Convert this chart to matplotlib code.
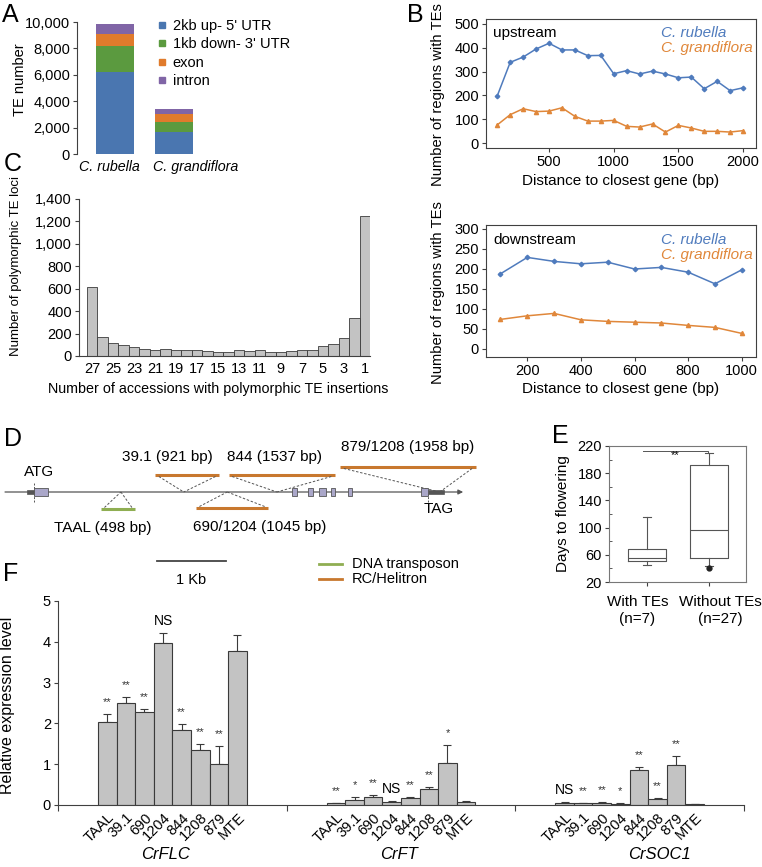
import matplotlib
matplotlib.use('Agg')
import matplotlib.pyplot as plt
from matplotlib.lines import Line2D
from matplotlib.patches import Rectangle
from matplotlib.ticker import FuncFormatter, MultipleLocator

plt.rcParams['font.family'] = ['Liberation Sans', 'DejaVu Sans']
plt.rcParams['font.size'] = 10
plt.rcParams['axes.linewidth'] = 0.8
plt.rcParams['axes.edgecolor'] = '#404040'
plt.rcParams['axes.facecolor'] = 'none'
plt.rcParams['xtick.color'] = '#404040'
plt.rcParams['ytick.color'] = '#404040'
plt.rcParams['xtick.labelcolor'] = 'black'
plt.rcParams['ytick.labelcolor'] = 'black'

# ---------------- data ----------------
# Panel A
species = ['C. rubella', 'C. grandiflora']
region_labels = ["2kb up- 5' UTR", "1kb down- 3' UTR", 'exon', 'intron']
te_up = [6180, 1700]
te_down = [2020, 710]
te_exon = [890, 610]
te_intron = [760, 380]

# Panel B
up_dist = [100, 200, 300, 400, 500, 600, 700, 800, 900, 1000,
           1100, 1200, 1300, 1400, 1500, 1600, 1700, 1800, 1900, 2000]
up_rubella = [198, 339, 361, 395, 419, 391, 391, 367, 368, 291,
              304, 290, 302, 290, 274, 277, 228, 259, 220, 232]
up_grandiflora = [76, 119, 144, 132, 134, 148, 112, 92, 92, 95,
                  70, 67, 80, 46, 74, 63, 49, 49, 46, 52]
down_dist = [100, 200, 300, 400, 500, 600, 700, 800, 900, 1000]
down_rubella = [188, 229, 219, 213, 217, 200, 204, 192, 163, 198]
down_grandiflora = [74, 83, 89, 73, 69, 67, 65, 59, 54, 39]

# Panel C
acc_counts = list(range(27, 0, -1))
poly_loci = [618, 169, 116, 98, 80, 62, 53, 59, 53, 51, 51, 42, 39, 33,
             53, 48, 53, 36, 36, 48, 51, 51, 89, 107, 158, 339, 1248]

# Panel D (gene model, kb from ATG)
d_exons = [(0.0, 0.20), (3.74, 3.81), (3.97, 4.04), (4.13, 4.23),
           (4.30, 4.36), (4.55, 4.61), (5.61, 5.71)]
d_utrs = [(-0.10, 0.0), (5.71, 5.94)]
te_names = ['TAAL (498 bp)', '39.1 (921 bp)', '844 (1537 bp)',
            '690/1204 (1045 bp)', '879/1208 (1958 bp)']
te_len_bp = [498, 921, 1537, 1045, 1958]
te_site_kb = [1.26, 2.17, 3.52, 2.80, 5.88]
te_center_kb = [1.22, 2.22, 3.59, 2.87, 5.42]
te_type = ['DNA transposon', 'RC/Helitron', 'RC/Helitron', 'RC/Helitron', 'RC/Helitron']

# Panel E
e_groups = ['With TEs\n(n=7)', 'Without TEs\n(n=27)']
e_whislo = [45.5, 43]
e_q1 = [51, 56]
e_med = [55.5, 96]
e_q3 = [69, 191.5]
e_whishi = [115, 210]
e_fliers = [[], [40]]

# Panel F
f_genes = ['CrFLC', 'CrFT', 'CrSOC1']
f_lines = ['TAAL', '39.1', '690', '1204', '844', '1208', '879', 'MTE']
flc_mean = [2.03, 2.51, 2.29, 3.96, 1.83, 1.34, 1.00, 3.77]
flc_err = [0.20, 0.13, 0.06, 0.26, 0.15, 0.16, 0.44, 0.39]
flc_sig = ['**', '**', '**', 'NS', '**', '**', '**', '']
ft_mean = [0.04, 0.115, 0.19, 0.08, 0.16, 0.385, 1.02, 0.07]
ft_err = [0.02, 0.075, 0.06, 0.03, 0.04, 0.065, 0.46, 0.03]
ft_sig = ['**', '*', '**', 'NS', '**', '**', '*', '']
soc_mean = [0.05, 0.04, 0.05, 0.03, 0.87, 0.15, 0.99, 0.025]
soc_err = [0.015, 0.01, 0.015, 0.01, 0.06, 0.03, 0.20, 0.005]
soc_sig = ['NS', '**', '**', '*', '**', '**', '**', '']

# ---------------- figure ----------------
W, H = 762, 867
fig = plt.figure(figsize=(W / 100, H / 100), dpi=100)


def rect(l, t, r, b):
    return [l / W, 1 - b / H, (r - l) / W, (b - t) / H]


def ftext(x, y, s, **kw):
    fig.text(x / W, 1 - y / H, s, **kw)


for lab, (x, y) in zip('ABCDEF', [(10, 15), (415, 15), (13, 164), (13, 439), (560, 436), (11, 574)]):
    ftext(x, y, lab, fontsize=18, ha='center', va='center')

BLUE = '#4a76b0'
GREEN = '#5b9a3f'
ORANGE = '#e07b2c'
PURPLE = '#8065a6'
LBLUE = '#4f7bbd'
LORANGE = '#e0873a'
GRAY = '#c3c3c3'
EDGE = '#3a3a3a'

# ----- Panel A -----
axA = fig.add_axes(rect(77, 22, 200, 154))
xa = [0, 1]
bottom = [0, 0]
colorsA = [BLUE, GREEN, ORANGE, PURPLE]
for vals, c in zip([te_up, te_down, te_exon, te_intron], colorsA):
    axA.bar(xa, vals, width=0.644, bottom=bottom, color=c, linewidth=0)
    bottom = [b + v for b, v in zip(bottom, vals)]
axA.set_xlim(-0.644, 1.44)
axA.set_ylim(0, 10000)
axA.set_yticks(range(0, 10001, 2000))
axA.yaxis.set_major_formatter(FuncFormatter(lambda v, p: f'{int(v):,}'))
axA.set_xticks([])
for sp, xoff in zip(species, [-0.10, 1.37]):
    axA.text(xoff, -0.095, sp, transform=axA.get_xaxis_transform(),
             ha='center', va='center', style='italic', fontsize=10.3)
axA.tick_params(axis='y', length=3, labelsize=10.5, pad=2)
for s in ['top', 'right', 'bottom']:
    axA.spines[s].set_visible(False)
axA.set_ylabel('TE number', fontsize=10.5)
axA.yaxis.set_label_coords(-0.407, 0.56)
handles = [Line2D([], [], marker='s', ls='', ms=4.5, color=c) for c in colorsA]
axA.legend(handles, region_labels, loc='upper left', bbox_to_anchor=(158 / W, 1 - 19 / H),
           bbox_transform=fig.transFigure, frameon=False, handlelength=0.5,
           handletextpad=0.5, labelspacing=0.3, borderpad=0, borderaxespad=0,
           fontsize=10.5)


# ----- Panel B -----
def style_box(ax):
    for s in ax.spines.values():
        s.set_visible(True)
    ax.tick_params(length=3, pad=2, labelsize=10.5)


axB1 = fig.add_axes(rect(486, 19, 756, 148))
axB1.plot(up_dist, up_rubella, color=LBLUE, marker='D', ms=2.3, lw=1.1)
axB1.plot(up_dist, up_grandiflora, color=LORANGE, marker='^', ms=3, lw=1.1)
axB1.set_xlim(13, 2100)
axB1.set_ylim(-21, 521)
axB1.set_xticks([500, 1000, 1500, 2000])
axB1.set_yticks(range(0, 501, 100))
style_box(axB1)
axB1.set_xlabel('Distance to closest gene (bp)', fontsize=11, labelpad=4)
axB1.text(0.027, 0.89, 'upstream', transform=axB1.transAxes, fontsize=11, va='center')
axB1.text(0.648, 0.89, 'C. rubella', transform=axB1.transAxes, fontsize=11,
          style='italic', color=LBLUE, va='center')
axB1.text(0.648, 0.775, 'C. grandiflora', transform=axB1.transAxes, fontsize=11,
          style='italic', color=LORANGE, va='center')
axB1.set_ylabel('Number of regions with TEs', fontsize=10.6)
axB1.yaxis.set_label_coords(-0.152, 0.415)

axB2 = fig.add_axes(rect(486, 225, 756, 357))
axB2.plot(down_dist, down_rubella, color=LBLUE, marker='D', ms=2.3, lw=1.1)
axB2.plot(down_dist, down_grandiflora, color=LORANGE, marker='^', ms=3, lw=1.1)
axB2.set_xlim(46, 1053)
axB2.set_ylim(-20, 310)
axB2.set_xticks([200, 400, 600, 800, 1000])
axB2.set_yticks(range(0, 301, 50))
style_box(axB2)
axB2.set_xlabel('Distance to closest gene (bp)', fontsize=11, labelpad=3)
axB2.text(0.027, 0.885, 'downstream', transform=axB2.transAxes, fontsize=11, va='center')
axB2.text(0.648, 0.885, 'C. rubella', transform=axB2.transAxes, fontsize=11,
          style='italic', color=LBLUE, va='center')
axB2.text(0.648, 0.77, 'C. grandiflora', transform=axB2.transAxes, fontsize=11,
          style='italic', color=LORANGE, va='center')
axB2.set_ylabel('Number of regions with TEs', fontsize=10.6)
axB2.yaxis.set_label_coords(-0.152, 0.49)

# ----- Panel C -----
axC = fig.add_axes(rect(79, 199, 370, 356))
xc = list(range(len(acc_counts)))
axC.bar(xc, poly_loci, width=1.0, color=GRAY, edgecolor=EDGE, linewidth=0.6)
axC.set_xlim(-1.26, 26.5)
axC.set_ylim(0, 1400)
axC.set_yticks(range(0, 1401, 200))
axC.yaxis.set_major_formatter(FuncFormatter(lambda v, p: f'{int(v):,}'))
axC.set_xticks(xc[::2])
axC.set_xticklabels([str(a) for a in acc_counts[::2]])
axC.tick_params(axis='x', length=0, pad=4, labelsize=10.5)
axC.tick_params(axis='y', length=3, pad=2, labelsize=10.5)
for s in ['top', 'right']:
    axC.spines[s].set_visible(False)
axC.set_ylabel('Number of polymorphic TE loci', fontsize=9.5)
axC.yaxis.set_label_coords(-0.196, 0.575)
axC.set_xlabel('Number of accessions with polymorphic TE insertions', fontsize=10.3)
axC.xaxis.set_label_coords(0.48, -0.165)

# ----- Panel D -----
axD = fig.add_axes(rect(0, 425, 500, 595))
axD.set_xlim(-34 / 69, 466 / 69)
axD.set_ylim(-103, 67)
axD.axis('off')
DGREEN = '#8fae52'
DORANGE = '#c8782e'
type_color = {'DNA transposon': DGREEN, 'RC/Helitron': DORANGE}
axD.annotate('', xy=(6.22, 0), xytext=(-0.42, 0),
             arrowprops=dict(arrowstyle='-|>', lw=0.9, color='#555555',
                             mutation_scale=7, shrinkA=0, shrinkB=0), zorder=1)
for s, e in d_utrs:
    axD.add_patch(Rectangle((s, -2.2), e - s, 4.4, facecolor='#555555', edgecolor='#555555',
                            lw=0.5, zorder=3))
for s, e in d_exons:
    axD.add_patch(Rectangle((s, -3.8), e - s, 7.6, facecolor='#aaa7c9', edgecolor='#555555',
                            lw=0.6, zorder=4))
axD.plot([0, 0], [-10, 9], ls=(0, (2, 1.5)), color='#555555', lw=0.7)
axD.plot([5.71, 5.71], [-10, 0], ls=(0, (2, 1.5)), color='#555555', lw=0.7)
axD.text(0.07, 20, 'ATG', ha='center', va='center', fontsize=11)
axD.text(5.86, -17, 'TAG', ha='center', va='center', fontsize=11)
levels = [-17, 17, 17, -16, 25]
label_pos = [(1.0, -36), (1.93, 35), (3.49, 35), (3.27, -35), (5.42, 45)]
for name, L, site, cen, typ, lev, (lx, ly) in zip(te_names, te_len_bp, te_site_kb,
                                                   te_center_kb, te_type, levels, label_pos):
    half = L / 1000 / 2
    s, e = cen - half, cen + half
    axD.plot([s, e], [lev, lev], color=type_color[typ], lw=2.2, solid_capstyle='butt')
    off = -1.5 if lev > 0 else 1.5
    for x0 in (s, e):
        axD.plot([x0 + (0.05 if x0 == s else -0.05), site], [lev + off, 0],
                 ls=(0, (2.5, 1.8)), color='#555555', lw=0.7)
    axD.text(lx, ly, name, ha='center', va='center', fontsize=11)
# scale bar
axD.plot([1.78, 2.78], [-69, -69], color='#444444', lw=1.3)
axD.text(2.28, -88, '1 Kb', ha='center', va='center', fontsize=10.5)
for i, typ in enumerate(['DNA transposon', 'RC/Helitron']):
    y = -72 - 15 * i
    axD.plot([4.13, 4.46], [y, y], color=type_color[typ], lw=2)
    axD.text(4.61, y, typ, va='center', fontsize=10.5)

# ----- Panel E -----
axE = fig.add_axes(rect(609, 446, 746, 582))
stats = []
for g, wl, q1, md, q3, wh, fl in zip(e_groups, e_whislo, e_q1, e_med, e_q3, e_whishi, e_fliers):
    stats.append(dict(label=g, whislo=wl, q1=q1, med=md, q3=q3, whishi=wh, fliers=fl))
ecol = '#555555'
axE.bxp(stats, positions=[1, 2], widths=0.6, capwidths=0.14,
        boxprops=dict(color=ecol, lw=0.8), whiskerprops=dict(color=ecol, lw=0.8),
        capprops=dict(color=ecol, lw=0.8), medianprops=dict(color=ecol, lw=0.8),
        flierprops=dict(marker='o', markersize=3.5, markerfacecolor='#222222',
                        markeredgecolor='#222222'))
axE.set_xlim(0.387, 2.597)
axE.set_ylim(20, 220)
axE.set_yticks(range(20, 221, 40))
axE.yaxis.set_minor_locator(MultipleLocator(20))
axE.tick_params(axis='y', which='minor', direction='in', length=2)
axE.tick_params(axis='y', which='major', length=3, pad=2, labelsize=10.5)
axE.tick_params(axis='x', length=3, labelbottom=False)
for s in axE.spines.values():
    s.set_color('#777777')
axE.plot([0.935, 1.985, 1.985], [212.5, 212.5, 210], color=ecol, lw=0.7)
axE.text(1.46, 206, '**', ha='center', va='center', fontsize=8)
axE.set_ylabel('Days to flowering', fontsize=11)
axE.yaxis.set_label_coords(-0.285, 0.5)
for g, gx in zip(e_groups, [0.845, 2.18]):
    axE.text(gx, -0.21, g, transform=axE.get_xaxis_transform(), ha='center',
             va='center', fontsize=11, linespacing=1.2)

# ----- Panel F -----
axF = fig.add_axes(rect(58, 601, 744, 805))
n = len(f_lines)
bw = 0.0813
all_pos = []
for gi, (means, errs, sigs) in enumerate([(flc_mean, flc_err, flc_sig),
                                          (ft_mean, ft_err, ft_sig),
                                          (soc_mean, soc_err, soc_sig)]):
    pos = [gi + 0.5 + (i - (n - 1) / 2) * bw for i in range(n)]
    all_pos += pos
    axF.bar(pos, means, width=bw, color=GRAY, edgecolor=EDGE, linewidth=0.8, zorder=2)
    axF.errorbar(pos, means, yerr=[[0] * n, errs], fmt='none', ecolor=EDGE,
                 elinewidth=0.8, capsize=3, capthick=0.8, zorder=1)
    for p, m, e, s in zip(pos, means, errs, sigs):
        if not s:
            continue
        if s == 'NS':
            axF.text(p, m + e + 0.12, s, ha='center', va='bottom', fontsize=10)
        else:
            axF.text(p, m + e + 0.17, s, ha='center', va='bottom', fontsize=8,
                     color='#333333')
axF.set_xlim(0, 3)
axF.set_ylim(0, 5)
axF.set_xticks([0, 1, 2, 3])
axF.set_xticklabels([])
axF.set_xticks(all_pos, minor=True)
axF.set_xticklabels(f_lines * 3, minor=True, rotation=45, ha='right',
                    rotation_mode='anchor', fontsize=10.5)
axF.tick_params(axis='x', which='minor', length=0, pad=4)
axF.tick_params(axis='x', which='major', length=4)
axF.tick_params(axis='y', length=3, pad=2, labelsize=10.5)
for s in ['top', 'right']:
    axF.spines[s].set_visible(False)
axF.set_ylabel('Relative expression level', fontsize=11.5)
axF.yaxis.set_label_coords(-0.0627, 0.49)
for g, gx in zip(f_genes, [0.47, 1.49, 2.63]):
    axF.text(gx, -0.245, g, transform=axF.get_xaxis_transform(), ha='center',
             va='center', fontsize=12, style='italic')

fig.savefig('out.png', dpi=100)
